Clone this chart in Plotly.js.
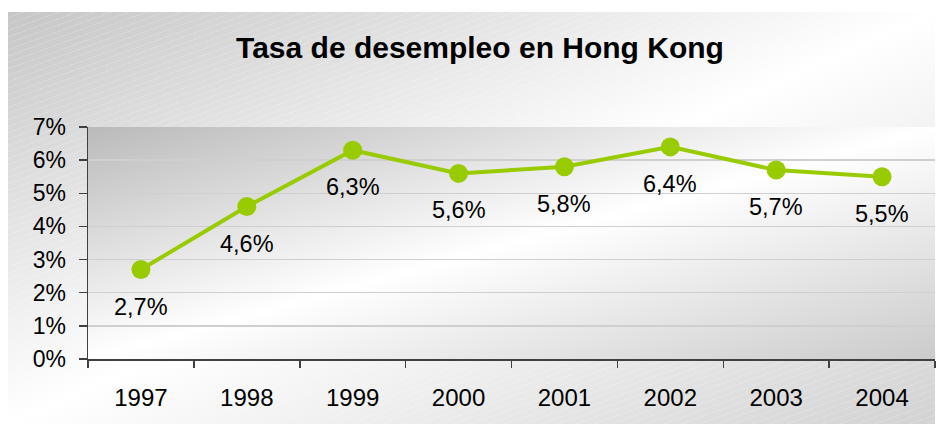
<!DOCTYPE html>
<html>
<head>
<meta charset="utf-8">
<script src="https://cdn.plot.ly/plotly-3.0.1.min.js"></script>
<style>
  html, body { margin: 0; padding: 0; background: #ffffff; width: 938px; height: 434px; overflow: hidden; }
  #frame {
    position: absolute; left: 8px; top: 12px; width: 927px; height: 412px;
    background:
      repeating-linear-gradient(160deg, rgba(255,255,255,0) 0px, rgba(255,255,255,0) 5px, rgba(255,255,255,0.18) 5px, rgba(255,255,255,0.18) 6px),
      linear-gradient(to bottom right, #c6c6c6 0%, #ffffff 50%, #d2d2d2 100%);
  }
  #plotbg {
    position: absolute; left: 88px; top: 127px; width: 847px; height: 232px;
    background: linear-gradient(to bottom right, #bababa 0%, #ffffff 50%, #cbcbcb 100%);
  }
  #chart { position: absolute; left: 0; top: 0; width: 938px; height: 434px; }
</style>
</head>
<body>
<div id="frame"></div>
<div id="plotbg"></div>
<div id="chart"></div>
<script>
const years = ['1997', '1998', '1999', '2000', '2001', '2002', '2003', '2004'];
const rates = [0.027, 0.046, 0.063, 0.056, 0.058, 0.064, 0.057, 0.055];
const yTicks = [0, 0.01, 0.02, 0.03, 0.04, 0.05, 0.06, 0.07];
const chartTitle = 'Tasa de desempleo en Hong Kong';

const fontFam = 'Liberation Sans, Arial, sans-serif';

const trace = {
  type: 'scatter',
  mode: 'lines+markers',
  x: years,
  y: rates,
  line: { color: '#99cc00', width: 4 },
  marker: { color: '#99cc00', size: 19 },
  hoverinfo: 'skip'
};

const annotations = years.map((yr, i) => ({
  x: i, y: rates[i], xref: 'x', yref: 'y',
  text: (rates[i] * 100).toFixed(1).replace('.', ',') + '%',
  showarrow: false, yshift: -37,
  font: { family: fontFam, size: 23.5, color: '#000000' }
}));

const layout = {
  width: 938, height: 434,
  margin: { l: 88, r: 3, t: 127, b: 75 },
  paper_bgcolor: 'rgba(0,0,0,0)',
  plot_bgcolor: 'rgba(0,0,0,0)',
  showlegend: false,
  separators: ',.',
  title: {
    text: '<b>' + chartTitle + '</b>',
    x: 480 / 938, xref: 'container', xanchor: 'center',
    y: 1 - 47 / 434, yref: 'container', yanchor: 'middle',
    font: { family: fontFam, size: 30, color: '#000000' }
  },
  xaxis: {
    type: 'category',
    categoryorder: 'array', categoryarray: years,
    range: [-0.5, years.length - 0.5],
    tickson: 'boundaries',
    ticks: 'outside', ticklen: 7, tickwidth: 1.5, tickcolor: '#404040',
    showline: true, linecolor: '#404040', linewidth: 1.5,
    showgrid: false,
    tickangle: 0,
    ticklabelstandoff: 17,
    tickfont: { family: fontFam, size: 24, color: '#000000' },
    fixedrange: true
  },
  yaxis: {
    range: [0, 0.07],
    tickvals: yTicks,
    tickformat: '.0%',
    ticks: 'outside', ticklen: 8, tickwidth: 1.5, tickcolor: '#404040',
    showline: true, linecolor: '#404040', linewidth: 1.5,
    showgrid: true, gridcolor: '#cfcfcf', gridwidth: 1.5,
    zeroline: false,
    ticklabelstandoff: 8,
    tickfont: { family: fontFam, size: 23, color: '#000000' },
    fixedrange: true
  },
  annotations: annotations
};

Plotly.newPlot('chart', [trace], layout, { displayModeBar: false, staticPlot: true });
</script>
</body>
</html>
